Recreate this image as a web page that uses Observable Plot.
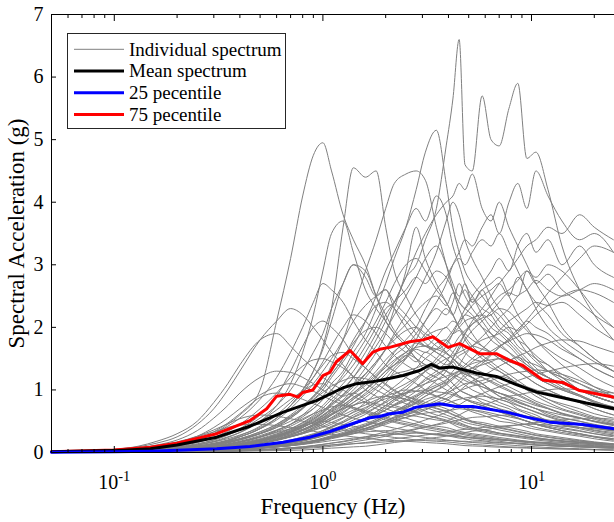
<!DOCTYPE html>
<html><head><meta charset="utf-8">
<script src="https://cdn.jsdelivr.net/npm/d3@7"></script>
<script src="https://cdn.jsdelivr.net/npm/@observablehq/plot@0.6"></script>
<style>body{margin:0;background:#fff;}</style>
</head><body><div id="chart"></div>
<script>
// Frequency grid (Hz) shared by the individual spectra
const freq = [0.05,0.07,0.1,0.13,0.16,0.2,0.25,0.3,0.35,0.4,0.5, 0.6,0.7,0.8,0.9,1.0,1.1,1.25,1.4,1.6,1.8,2.0, 2.2,2.5,2.8,3.1,3.5,3.9,4.2,4.5,4.8,5.2,5.8, 6.4,7.0,7.8,8.6,9.5,10.5,12,14,17,20,24.7];

// Individual spectra (g), read/
const s1 = [0,0.01,0.02,0.03,0.05,0.07,0.1,0.14,0.18,0.22,0.3, 0.4,0.5,0.6,0.7,0.85,1.0,1.2,1.4,1.7,2.0,2.3, 2.4,2.8,3.0,3.4,3.9,4.9,5.65,6.6,4.6,4.5,5.7, 5.0,4.9,5.5,5.9,4.7,4.8,4.2,3.3,2.6,2.2,1.8];
const s2 = [0,0.01,0.03,0.05,0.08,0.12,0.2,0.3,0.45,0.6,1.0, 2.1,3.1,4.1,4.75,4.95,4.5,3.8,3.4,3.0,2.5,2.1, 1.9,1.7,1.5,1.4,1.3,1.2,1.1,1.0,0.95,0.9,0.8, 0.75,0.7,0.6,0.55,0.5,0.45,0.4,0.35,0.3,0.25,0.2];
const s3 = [0,0.01,0.02,0.03,0.05,0.08,0.12,0.17,0.22,0.28,0.4, 0.55,0.75,1.0,1.3,1.7,2.3,3.6,4.55,4.4,4.5,3.6, 2.9,2.5,2.2,2.0,1.8,1.6,1.5,1.4,1.3,1.2,1.0, 0.9,0.85,0.8,0.7,0.65,0.6,0.5,0.45,0.4,0.35,0.3];
const s4 = [0,0.01,0.02,0.03,0.04,0.06,0.09,0.12,0.16,0.2,0.3, 0.4,0.55,0.7,0.9,1.1,1.4,1.8,2.3,2.9,3.4,3.9, 4.3,4.45,4.5,4.35,3.6,3.0,2.6,2.3,2.1,1.9,1.7, 1.6,1.5,1.4,1.3,1.2,1.1,1.0,0.9,0.8,0.7,0.6];
const s5 = [0,0.01,0.02,0.03,0.04,0.05,0.07,0.1,0.13,0.17,0.25, 0.35,0.45,0.6,0.75,0.9,1.1,1.3,1.6,1.9,2.3,2.7, 3.1,3.6,4.2,4.8,5.15,4.3,3.6,3.2,2.9,2.7,2.5, 2.3,2.2,2.0,1.8,1.7,1.5,1.4,1.2,1.0,0.9,0.8];
const s6 = [0,0.005,0.01,0.02,0.03,0.04,0.05,0.07,0.09,0.11,0.15, 0.2,0.25,0.3,0.35,0.4,0.45,0.55,0.65,0.8,0.95,1.1, 1.3,1.5,1.8,2.1,2.4,2.7,3.0,3.2,3.4,3.3,3.6, 3.8,3.5,4.0,4.3,3.9,4.5,4.1,3.7,3.4,3.5,3.2];
const s7 = [0,0.01,0.015,0.02,0.03,0.04,0.06,0.08,0.1,0.13,0.2, 0.28,0.36,0.45,0.55,0.65,0.8,1.0,1.2,1.5,1.8,2.1, 2.4,2.8,3.2,3.5,3.8,4.0,4.1,4.3,4.2,4.45,3.9, 3.7,4.0,3.6,3.3,3.0,2.7,2.4,2.0,1.7,1.5,1.3];
const s8 = [0,0.01,0.02,0.03,0.05,0.08,0.12,0.18,0.25,0.32,0.5, 0.75,1.1,1.6,2.2,2.9,3.5,3.7,3.2,2.6,2.3,2.1, 1.9,1.7,1.5,1.3,1.2,1.1,1.0,0.9,0.85,0.8,0.75, 0.7,0.65,0.6,0.55,0.5,0.45,0.4,0.35,0.3,0.25,0.2];
const s9 = [0,0.01,0.02,0.03,0.04,0.06,0.08,0.11,0.15,0.2,0.3, 0.42,0.55,0.7,0.85,1.0,1.2,1.45,1.7,2.1,2.5,2.9, 3.2,3.6,3.9,3.7,4.1,3.8,3.3,3.0,2.7,2.5,2.3, 2.2,2.0,1.9,1.7,1.6,1.5,1.3,1.2,1.0,0.9,0.8];
const s10 = [0,0,0.01,0.015,0.02,0.03,0.04,0.05,0.06,0.08,0.1, 0.13,0.16,0.2,0.24,0.28,0.32,0.38,0.45,0.55,0.65,0.75, 0.85,1.0,1.15,1.3,1.5,1.7,1.9,2.1,2.3,2.5,2.7, 2.9,3.1,2.9,3.3,3.5,3.2,3.4,3.0,3.3,3.0,2.8];
const s11 = [0,0,0.005,0.01,0.015,0.02,0.03,0.04,0.05,0.06,0.08, 0.1,0.12,0.15,0.18,0.21,0.25,0.3,0.36,0.43,0.5,0.58, 0.66,0.75,0.85,0.95,1.05,1.15,1.3,1.4,1.55,1.7,1.85, 2.0,2.15,2.3,2.5,2.6,2.75,2.6,2.5,2.6,2.7,2.6];
const s12 = [0,0.02,0.05,0.09,0.15,0.25,0.45,0.7,1.0,1.3,1.8, 2.1,2.3,2.2,2.0,1.8,1.6,1.4,1.2,1.0,0.9,0.8, 0.75,0.7,0.65,0.6,0.55,0.5,0.45,0.4,0.38,0.36,0.33, 0.3,0.28,0.26,0.24,0.22,0.2,0.18,0.16,0.14,0.12,0.1];
const s13 = [0,0.02,0.05,0.1,0.18,0.3,0.5,0.8,1.1,1.4,1.8, 1.9,1.7,1.5,1.35,1.2,1.1,1.0,0.9,0.8,0.7,0.65, 0.6,0.55,0.5,0.45,0.42,0.4,0.37,0.34,0.32,0.3,0.28, 0.26,0.24,0.22,0.2,0.18,0.16,0.15,0.13,0.12,0.1,0.09];
const s14 = [0,0.01,0.03,0.05,0.08,0.13,0.2,0.3,0.42,0.55,0.85, 1.2,1.6,2.0,2.4,2.7,2.6,2.4,2.1,1.8,1.6,1.4, 1.3,1.2,1.1,1.0,0.9,0.85,0.8,0.75,0.7,0.65,0.6, 0.55,0.5,0.48,0.45,0.4,0.37,0.34,0.3,0.26,0.22,0.18];
const s15 = [0,0.01,0.02,0.04,0.06,0.09,0.14,0.2,0.28,0.36,0.55, 0.75,1.0,1.3,1.6,1.9,2.3,2.7,3.0,2.8,2.5,2.6, 2.3,2.0,1.8,1.7,1.6,1.5,1.4,1.3,1.25,1.2,1.1, 1.0,0.95,0.9,0.8,0.75,0.7,0.65,0.6,0.55,0.5,0.45];
const s16 = [0,0.01,0.015,0.02,0.03,0.05,0.07,0.1,0.13,0.16,0.24, 0.33,0.42,0.52,0.62,0.75,0.9,1.1,1.3,1.6,1.9,2.2, 2.4,2.6,2.8,2.7,2.9,2.8,2.6,2.4,2.3,2.2,2.0, 1.8,1.7,1.6,1.5,1.4,1.3,1.2,1.1,1.0,0.9,0.8];
const s17 = [0,0.005,0.01,0.02,0.03,0.04,0.05,0.07,0.09,0.11,0.16, 0.22,0.28,0.35,0.42,0.5,0.6,0.72,0.85,1.0,1.2,1.4, 1.6,1.8,2.0,2.3,2.6,2.8,3.0,3.1,3.0,3.2,3.4, 3.3,3.5,3.2,2.9,2.6,2.4,2.2,1.9,1.7,1.5,1.3];
const s18 = [0,0.01,0.02,0.03,0.05,0.07,0.1,0.14,0.19,0.25,0.38, 0.52,0.7,0.9,1.1,1.3,1.5,1.8,2.1,2.35,2.5,2.6, 2.4,2.2,2.0,1.85,1.7,1.6,1.5,1.4,1.3,1.2,1.1, 1.0,0.9,0.85,0.8,0.75,0.7,0.6,0.55,0.5,0.45,0.4];
const s19 = [0,0.005,0.01,0.015,0.02,0.03,0.045,0.06,0.08,0.1,0.15, 0.2,0.26,0.32,0.4,0.48,0.56,0.68,0.8,0.95,1.1,1.25, 1.4,1.55,1.7,1.85,1.95,2.0,2.1,2.05,2.2,2.15,2.0, 1.9,1.8,1.7,1.55,1.4,1.3,1.2,1.1,1.0,0.9,0.8];
const s20 = [0,0,0.005,0.01,0.015,0.02,0.03,0.04,0.05,0.07,0.1, 0.13,0.17,0.2,0.24,0.28,0.33,0.4,0.47,0.55,0.65,0.75, 0.85,0.95,1.05,1.15,1.25,1.35,1.45,1.55,1.6,1.7,1.8, 1.85,1.9,2.0,1.95,2.1,2.0,1.9,1.7,1.5,1.35,1.2];
const s21 = [0,0.01,0.02,0.03,0.05,0.07,0.1,0.15,0.2,0.27,0.42, 0.6,0.8,1.0,1.2,1.4,1.55,1.6,1.5,1.35,1.2,1.1, 1.0,0.9,0.85,0.8,0.75,0.7,0.65,0.6,0.55,0.5,0.48, 0.45,0.42,0.4,0.37,0.34,0.3,0.27,0.24,0.2,0.17,0.14];
const s22 = [0,0.005,0.01,0.02,0.03,0.04,0.06,0.08,0.1,0.13,0.18, 0.24,0.3,0.37,0.44,0.52,0.6,0.7,0.8,0.92,1.05,1.15, 1.25,1.3,1.35,1.4,1.35,1.3,1.25,1.2,1.15,1.1,1.05, 1.0,0.95,0.9,0.85,0.8,0.75,0.7,0.62,0.55,0.5,0.45];
const s23 = [0,0,0.005,0.01,0.015,0.02,0.03,0.04,0.05,0.06,0.09, 0.12,0.15,0.18,0.22,0.26,0.3,0.35,0.4,0.46,0.53,0.6, 0.66,0.72,0.78,0.85,0.9,0.95,1.0,1.05,1.1,1.12,1.15, 1.2,1.22,1.18,1.1,1.05,1.0,0.95,0.9,0.82,0.75,0.68];
const s24 = [0,0.005,0.01,0.015,0.02,0.03,0.04,0.06,0.08,0.1,0.15, 0.2,0.26,0.32,0.4,0.48,0.55,0.65,0.75,0.82,0.88,0.9, 0.88,0.85,0.8,0.75,0.7,0.65,0.6,0.56,0.52,0.48,0.45, 0.42,0.4,0.37,0.34,0.31,0.28,0.25,0.22,0.19,0.16,0.13];
const s25 = [0,0,0.005,0.01,0.01,0.015,0.02,0.03,0.04,0.05,0.07, 0.1,0.12,0.15,0.18,0.21,0.24,0.28,0.33,0.38,0.43,0.48, 0.52,0.56,0.6,0.63,0.65,0.67,0.68,0.7,0.69,0.68,0.66, 0.63,0.6,0.57,0.54,0.5,0.46,0.42,0.38,0.34,0.3,0.27];
const s26 = [0,0.005,0.01,0.02,0.03,0.05,0.07,0.1,0.13,0.17,0.25, 0.32,0.38,0.43,0.47,0.5,0.48,0.45,0.42,0.38,0.35,0.32, 0.3,0.28,0.26,0.24,0.22,0.2,0.19,0.18,0.17,0.16,0.15, 0.14,0.13,0.12,0.11,0.1,0.09,0.08,0.07,0.06,0.05,0.04];
const s27 = [0,0,0,0.005,0.005,0.01,0.01,0.015,0.02,0.025,0.035, 0.045,0.055,0.065,0.075,0.085,0.1,0.12,0.14,0.16,0.18,0.2, 0.22,0.24,0.26,0.28,0.3,0.32,0.34,0.36,0.37,0.38,0.4, 0.41,0.42,0.43,0.44,0.45,0.45,0.44,0.42,0.4,0.38,0.35];
const s28 = [0,0.01,0.02,0.03,0.05,0.08,0.12,0.17,0.24,0.32,0.5, 0.68,0.85,0.98,1.08,1.1,1.0,0.9,0.95,0.85,0.75,0.7, 0.65,0.6,0.58,0.55,0.52,0.5,0.47,0.44,0.41,0.38,0.35, 0.32,0.3,0.28,0.26,0.24,0.22,0.2,0.18,0.16,0.14,0.12];
const s29 = [0,0.005,0.01,0.015,0.02,0.03,0.05,0.07,0.09,0.12,0.18, 0.25,0.32,0.4,0.48,0.56,0.65,0.76,0.88,1.0,1.15,1.3, 1.4,1.5,1.65,1.6,1.75,1.8,1.7,1.75,1.6,1.5,1.45, 1.35,1.3,1.2,1.1,1.0,0.95,0.85,0.78,0.7,0.62,0.55];
const s30 = [0,0,0.005,0.01,0.015,0.02,0.03,0.04,0.05,0.06,0.08, 0.1,0.13,0.16,0.19,0.22,0.26,0.3,0.36,0.42,0.48,0.55, 0.62,0.7,0.8,0.9,1.0,1.1,1.2,1.3,1.4,1.5,1.65, 1.8,1.95,2.1,2.2,2.3,2.4,2.35,2.4,2.2,2.0,1.8];
const s31 = [0,0.01,0.015,0.02,0.03,0.05,0.07,0.1,0.13,0.17,0.25, 0.35,0.45,0.57,0.7,0.85,1.0,1.25,1.5,1.8,2.1,2.4, 2.7,3.0,3.1,2.9,2.6,2.4,2.2,2.0,1.9,1.8,1.7, 1.6,1.5,1.4,1.3,1.2,1.1,1.0,0.9,0.8,0.7,0.6];
const s32 = [0,0,0.01,0.015,0.02,0.03,0.04,0.05,0.065,0.08,0.12, 0.16,0.2,0.25,0.3,0.35,0.42,0.5,0.6,0.7,0.82,0.95, 1.05,1.2,1.35,1.5,1.65,1.8,1.95,2.1,2.2,2.35,2.5, 2.6,2.7,2.5,2.8,2.6,2.3,2.0,1.8,1.6,1.45,1.3];
const s33 = [0,0.02,0.04,0.07,0.12,0.2,0.35,0.55,0.75,0.95,1.2, 1.3,1.28,1.2,1.1,1.0,0.9,0.8,0.72,0.65,0.6,0.55, 0.5,0.46,0.43,0.4,0.37,0.34,0.32,0.3,0.28,0.26,0.24, 0.22,0.2,0.19,0.17,0.16,0.14,0.13,0.11,0.1,0.09,0.08];
const s34 = [0,0,0.005,0.01,0.015,0.02,0.03,0.04,0.05,0.06,0.08, 0.1,0.12,0.15,0.18,0.21,0.25,0.3,0.35,0.42,0.5,0.58, 0.66,0.76,0.88,1.0,1.15,1.3,1.5,1.7,1.9,2.1,2.3, 2.5,2.7,2.9,3.1,3.3,3.4,3.6,3.5,3.8,3.6,3.4];
const s35 = [0,0.01,0.02,0.03,0.04,0.06,0.09,0.13,0.17,0.22,0.33, 0.45,0.6,0.75,0.9,1.05,1.25,1.5,1.75,1.95,2.0,1.9, 1.75,1.6,1.5,1.4,1.3,1.2,1.1,1.0,0.95,0.9,0.85, 0.8,0.75,0.7,0.62,0.56,0.5,0.45,0.4,0.35,0.3,0.25];
const s36 = [0,0,0.005,0.01,0.01,0.015,0.02,0.03,0.04,0.05,0.07, 0.09,0.11,0.13,0.15,0.17,0.19,0.21,0.23,0.25,0.27,0.28, 0.29,0.3,0.31,0.3,0.29,0.28,0.27,0.26,0.25,0.24,0.23, 0.22,0.21,0.2,0.19,0.18,0.17,0.16,0.15,0.14,0.13,0.12];
const s37 = [0,0,0.005,0.01,0.015,0.02,0.03,0.04,0.05,0.06,0.09, 0.12,0.15,0.19,0.23,0.27,0.32,0.38,0.45,0.52,0.6,0.68, 0.75,0.82,0.9,0.97,1.05,1.12,1.2,1.25,1.3,1.35,1.4, 1.45,1.5,1.48,1.52,1.45,1.4,1.3,1.2,1.1,1.0,0.9];
const s38 = [0,0.005,0.01,0.02,0.03,0.04,0.06,0.08,0.1,0.13,0.2, 0.27,0.35,0.44,0.53,0.63,0.75,0.9,1.05,1.25,1.45,1.65, 1.85,2.05,2.25,2.4,2.5,2.35,2.55,2.4,2.3,2.45,2.2, 2.0,1.9,1.75,1.6,1.45,1.3,1.2,1.1,1.0,0.9,0.8];
const s39 = [0,0.02,0.04,0.07,0.11,0.17,0.26,0.36,0.46,0.54,0.6, 0.58,0.54,0.5,0.46,0.42,0.39,0.36,0.33,0.3,0.28,0.26, 0.24,0.22,0.2,0.19,0.18,0.17,0.16,0.15,0.14,0.13,0.12, 0.11,0.1,0.09,0.085,0.08,0.07,0.065,0.06,0.05,0.045,0.04];
const s40 = [0,0,0,0.005,0.005,0.01,0.015,0.02,0.025,0.03,0.04, 0.05,0.06,0.075,0.09,0.1,0.12,0.14,0.17,0.2,0.23,0.26, 0.29,0.33,0.37,0.41,0.45,0.5,0.55,0.6,0.65,0.7,0.75, 0.8,0.85,0.9,0.92,0.95,0.97,1.0,1.02,1.0,0.98,0.95];
const s41 = [0,0,0.005,0.01,0.015,0.02,0.03,0.04,0.055,0.07,0.1, 0.14,0.18,0.23,0.28,0.33,0.4,0.48,0.57,0.67,0.78,0.9, 1.0,1.1,1.2,1.3,1.4,1.5,1.55,1.6,1.65,1.7,1.65, 1.6,1.55,1.5,1.4,1.3,1.2,1.1,1.0,0.9,0.8,0.72];
const s42 = [0,0.005,0.01,0.015,0.02,0.03,0.04,0.06,0.08,0.1,0.15, 0.2,0.25,0.3,0.36,0.42,0.48,0.56,0.64,0.72,0.8,0.86, 0.9,0.95,0.98,1.0,0.97,0.95,0.92,0.88,0.85,0.82,0.78, 0.74,0.7,0.66,0.62,0.58,0.54,0.5,0.45,0.4,0.36,0.32];
const s43 = [0,0.01,0.02,0.03,0.05,0.07,0.1,0.14,0.19,0.25,0.38, 0.55,0.75,0.95,1.2,1.45,1.7,2.0,2.2,2.1,1.9,1.7, 1.55,1.4,1.3,1.2,1.1,1.0,0.95,0.9,0.85,0.8,0.75, 0.7,0.65,0.6,0.55,0.5,0.45,0.4,0.35,0.3,0.26,0.22];
const s44 = [0,0,0,0,0.005,0.005,0.01,0.01,0.015,0.02,0.025, 0.03,0.035,0.04,0.05,0.06,0.07,0.08,0.09,0.1,0.12,0.14, 0.16,0.18,0.2,0.22,0.24,0.26,0.28,0.3,0.32,0.34,0.36, 0.38,0.4,0.42,0.44,0.46,0.48,0.5,0.52,0.54,0.55,0.53];
const s45 = [0,0,0.005,0.01,0.01,0.015,0.02,0.03,0.04,0.05,0.07, 0.09,0.11,0.14,0.17,0.2,0.24,0.28,0.33,0.38,0.44,0.5, 0.56,0.62,0.68,0.74,0.8,0.86,0.92,0.98,1.02,1.06,1.1, 1.15,1.2,1.25,1.28,1.3,1.32,1.3,1.25,1.15,1.05,0.95];
const s46 = [0,0.005,0.01,0.015,0.02,0.03,0.05,0.07,0.09,0.12,0.18, 0.25,0.33,0.42,0.51,0.6,0.7,0.82,0.95,1.1,1.25,1.4, 1.55,1.7,1.9,2.1,2.3,2.2,2.4,2.7,2.5,2.3,2.1, 1.9,1.75,1.6,1.45,1.3,1.2,1.1,1.0,0.9,0.8,0.7];
const s47 = [0,0.005,0.01,0.02,0.03,0.04,0.06,0.08,0.11,0.14,0.2, 0.27,0.34,0.41,0.48,0.55,0.62,0.7,0.76,0.8,0.78,0.75, 0.72,0.68,0.64,0.6,0.56,0.52,0.49,0.46,0.43,0.4,0.37, 0.34,0.31,0.29,0.27,0.25,0.23,0.21,0.19,0.17,0.15,0.13];
const s48 = [0,0,0.005,0.01,0.015,0.02,0.03,0.04,0.05,0.065,0.09, 0.12,0.15,0.19,0.23,0.27,0.32,0.38,0.45,0.53,0.62,0.72, 0.82,0.93,1.05,1.18,1.3,1.45,1.6,1.75,1.9,2.05,2.2, 2.35,2.5,2.6,2.75,2.9,2.8,3.0,2.9,2.6,2.3,2.0];
const s49 = [0,0.01,0.02,0.04,0.06,0.1,0.16,0.24,0.34,0.45,0.7, 0.95,1.2,1.38,1.48,1.5,1.45,1.35,1.22,1.1,1.0,0.92, 0.85,0.78,0.72,0.66,0.6,0.56,0.52,0.48,0.44,0.4,0.37, 0.34,0.31,0.28,0.26,0.24,0.22,0.2,0.18,0.16,0.14,0.12];
const s50 = [0,0.005,0.01,0.02,0.03,0.04,0.06,0.09,0.12,0.15,0.22, 0.3,0.38,0.47,0.57,0.67,0.78,0.92,1.08,1.26,1.45,1.65, 1.8,1.95,2.0,1.9,1.8,1.7,1.6,1.5,1.42,1.35,1.28, 1.2,1.12,1.05,0.98,0.9,0.82,0.75,0.68,0.6,0.53,0.46];
const s51 = [0,0.005,0.01,0.015,0.02,0.03,0.05,0.07,0.09,0.12,0.17, 0.23,0.3,0.37,0.45,0.53,0.62,0.75,0.88,1.0,1.15,1.3, 1.4,1.55,1.45,1.6,1.5,1.4,1.45,1.3,1.25,1.2,1.1, 1.0,0.95,0.88,0.82,0.76,0.7,0.63,0.56,0.5,0.44,0.4];
const s52 = [0,0,0.005,0.01,0.015,0.02,0.03,0.04,0.05,0.07,0.1, 0.13,0.17,0.21,0.26,0.31,0.37,0.44,0.52,0.61,0.72,0.82, 0.93,1.05,1.18,1.3,1.45,1.6,1.7,1.85,1.95,2.05,2.15, 2.2,2.3,2.25,2.1,1.95,1.8,1.65,1.5,1.35,1.2,1.05];
const s53 = [0,0.01,0.015,0.025,0.04,0.06,0.09,0.13,0.17,0.22,0.33, 0.45,0.58,0.71,0.84,0.96,1.06,1.15,1.2,1.18,1.1,1.0, 0.92,0.85,0.78,0.72,0.66,0.6,0.56,0.52,0.48,0.45,0.42, 0.39,0.36,0.33,0.3,0.27,0.24,0.21,0.18,0.16,0.14,0.12];
const s54 = [0,0.005,0.01,0.015,0.02,0.03,0.045,0.06,0.08,0.1,0.15, 0.21,0.28,0.35,0.43,0.51,0.6,0.72,0.85,1.0,1.15,1.3, 1.45,1.6,1.75,1.7,1.85,2.0,1.9,1.95,1.8,1.65,1.5, 1.4,1.3,1.2,1.1,1.0,0.9,0.8,0.7,0.62,0.55,0.48];
const s55 = [0,0,0.005,0.01,0.01,0.015,0.02,0.03,0.04,0.05,0.07, 0.09,0.11,0.14,0.17,0.2,0.24,0.28,0.33,0.38,0.44,0.5, 0.55,0.6,0.65,0.7,0.74,0.78,0.82,0.85,0.87,0.89,0.9, 0.88,0.85,0.8,0.75,0.7,0.65,0.58,0.52,0.46,0.41,0.36];
const s56 = [0,0.005,0.01,0.015,0.02,0.03,0.04,0.06,0.08,0.1,0.14, 0.19,0.25,0.31,0.38,0.45,0.53,0.63,0.75,0.88,1.02,1.18, 1.35,1.52,1.7,1.9,2.1,2.3,2.2,2.45,2.7,2.4,2.6, 2.3,2.1,1.95,1.8,1.6,1.45,1.3,1.15,1.0,0.9,0.8];
const s57 = [0,0.005,0.01,0.015,0.02,0.025,0.03,0.04,0.05,0.06,0.08, 0.1,0.12,0.15,0.18,0.21,0.24,0.27,0.3,0.33,0.34,0.35, 0.34,0.33,0.32,0.3,0.28,0.27,0.26,0.25,0.24,0.23,0.22, 0.21,0.2,0.19,0.18,0.17,0.16,0.15,0.13,0.12,0.11,0.1];
const s58 = [0,0,0.005,0.01,0.01,0.015,0.02,0.03,0.04,0.05,0.07, 0.09,0.11,0.13,0.16,0.19,0.22,0.26,0.3,0.35,0.4,0.45, 0.5,0.56,0.62,0.68,0.75,0.82,0.9,0.98,1.06,1.14,1.22, 1.3,1.38,1.46,1.54,1.6,1.68,1.75,1.8,1.78,1.7,1.6];
const s59 = [0,0.005,0.01,0.02,0.03,0.04,0.06,0.08,0.11,0.14,0.21, 0.29,0.38,0.48,0.59,0.71,0.85,1.02,1.2,1.45,1.7,1.95, 2.2,2.5,2.8,3.1,3.3,3.0,2.7,2.5,2.6,2.4,2.6, 2.7,2.8,2.5,2.2,2.0,1.8,1.6,1.4,1.2,1.05,0.9];
const s60 = [0,0.015,0.03,0.06,0.1,0.16,0.26,0.4,0.55,0.7,0.92, 1.05,1.1,1.05,0.98,0.9,0.84,0.76,0.7,0.63,0.57,0.52, 0.48,0.44,0.4,0.37,0.34,0.31,0.29,0.27,0.25,0.23,0.21, 0.19,0.18,0.16,0.15,0.14,0.12,0.11,0.1,0.09,0.08,0.07];
const s61 = [0,0,0,0.005,0.005,0.01,0.015,0.02,0.025,0.03,0.045, 0.06,0.075,0.09,0.11,0.13,0.15,0.18,0.21,0.25,0.29,0.33, 0.37,0.42,0.47,0.52,0.58,0.64,0.7,0.76,0.82,0.88,0.94, 1.0,1.05,1.1,1.15,1.2,1.25,1.3,1.35,1.4,1.42,1.38];
const s62 = [0,0.01,0.015,0.025,0.04,0.06,0.08,0.12,0.16,0.21,0.31, 0.43,0.57,0.72,0.88,1.05,1.25,1.5,1.8,2.1,2.35,2.4, 2.3,2.1,1.9,1.75,1.6,1.5,1.4,1.3,1.2,1.12,1.05, 0.98,0.9,0.83,0.76,0.7,0.64,0.57,0.5,0.44,0.39,0.34];
const s63 = [0,0,0,0.005,0.01,0.01,0.015,0.02,0.025,0.03,0.045, 0.06,0.075,0.09,0.11,0.13,0.15,0.17,0.2,0.23,0.26,0.29, 0.32,0.35,0.38,0.41,0.44,0.47,0.5,0.52,0.54,0.56,0.57, 0.58,0.59,0.6,0.6,0.58,0.56,0.52,0.48,0.44,0.4,0.36];
const s64 = [0,0.005,0.01,0.02,0.03,0.04,0.06,0.08,0.1,0.13,0.19, 0.26,0.34,0.43,0.53,0.64,0.77,0.93,1.1,1.35,1.6,1.9, 2.3,2.9,3.6,3.1,2.7,2.4,2.2,2.0,1.85,1.7,1.55, 1.45,1.35,1.25,1.15,1.05,0.95,0.85,0.75,0.65,0.57,0.5];
const s65 = [0,0,0.005,0.01,0.015,0.02,0.025,0.035,0.045,0.055,0.08, 0.1,0.13,0.16,0.19,0.23,0.27,0.32,0.38,0.44,0.51,0.58, 0.65,0.73,0.81,0.9,0.99,1.08,1.17,1.26,1.35,1.45,1.55, 1.62,1.7,1.78,1.85,1.9,1.88,1.8,1.65,1.5,1.35,1.2];
const s66 = [0,0.005,0.01,0.02,0.03,0.045,0.07,0.1,0.14,0.18,0.27, 0.36,0.45,0.54,0.62,0.68,0.73,0.75,0.72,0.67,0.62,0.57, 0.53,0.49,0.45,0.42,0.39,0.36,0.34,0.32,0.3,0.28,0.26, 0.24,0.22,0.2,0.19,0.17,0.16,0.14,0.12,0.11,0.1,0.09];
const s67 = [0,0,0.005,0.01,0.015,0.02,0.03,0.04,0.05,0.06,0.09, 0.12,0.15,0.19,0.23,0.27,0.32,0.38,0.45,0.52,0.6,0.68, 0.77,0.87,0.98,1.1,1.22,1.35,1.5,1.65,1.8,1.95,2.1, 2.25,2.4,2.55,2.5,2.9,2.7,2.85,2.6,2.4,2.2,2.0];
const s68 = [0,0.005,0.01,0.01,0.015,0.02,0.03,0.045,0.06,0.075,0.11, 0.15,0.19,0.24,0.29,0.35,0.41,0.48,0.56,0.64,0.72,0.8, 0.88,0.96,1.04,1.1,1.16,1.22,1.26,1.3,1.28,1.25,1.2, 1.14,1.08,1.0,0.93,0.86,0.79,0.71,0.63,0.56,0.5,0.44];
const s69 = [0,0.01,0.02,0.035,0.055,0.085,0.13,0.2,0.28,0.38,0.6, 0.9,1.3,1.7,2.0,2.1,2.0,1.8,1.55,1.35,1.2,1.08, 0.98,0.9,0.83,0.77,0.71,0.66,0.61,0.57,0.53,0.49,0.45, 0.42,0.39,0.36,0.33,0.3,0.27,0.24,0.21,0.18,0.16,0.14];
const s70 = [0,0.005,0.01,0.015,0.025,0.035,0.05,0.07,0.09,0.12,0.18, 0.25,0.32,0.4,0.49,0.58,0.68,0.8,0.93,1.07,1.22,1.36, 1.48,1.6,1.68,1.7,1.65,1.58,1.5,1.42,1.35,1.28,1.2, 1.12,1.05,0.98,0.91,0.84,0.77,0.7,0.62,0.55,0.49,0.43];
const s71 = [0,0.015,0.03,0.06,0.1,0.16,0.25,0.33,0.4,0.44,0.45, 0.43,0.4,0.37,0.34,0.31,0.29,0.27,0.25,0.23,0.21,0.2, 0.19,0.18,0.17,0.16,0.15,0.14,0.13,0.12,0.11,0.105,0.1, 0.09,0.085,0.08,0.075,0.07,0.065,0.06,0.055,0.05,0.045,0.04];
const s72 = [0,0,0.005,0.01,0.015,0.02,0.025,0.035,0.045,0.055,0.075, 0.1,0.12,0.15,0.18,0.21,0.25,0.29,0.34,0.39,0.45,0.51, 0.57,0.64,0.72,0.8,0.88,0.97,1.06,1.15,1.25,1.35,1.46, 1.57,1.68,1.8,1.92,2.05,2.2,2.35,2.5,2.6,2.55,2.4];
const s73 = [0,0.005,0.01,0.015,0.02,0.03,0.04,0.06,0.08,0.1,0.15, 0.2,0.26,0.32,0.38,0.45,0.52,0.6,0.68,0.76,0.84,0.9, 0.95,1.0,0.98,0.95,0.9,0.85,0.8,0.76,0.72,0.68,0.64, 0.6,0.56,0.52,0.48,0.44,0.4,0.36,0.32,0.28,0.25,0.22];
const s74 = [0,0.005,0.01,0.015,0.02,0.03,0.045,0.06,0.08,0.1,0.15, 0.21,0.28,0.36,0.45,0.55,0.66,0.8,0.95,1.12,1.3,1.48, 1.62,1.75,1.8,1.7,1.65,1.75,1.9,2.0,2.1,2.15,2.2, 2.1,1.95,1.8,1.65,1.5,1.35,1.2,1.05,0.92,0.82,0.72];
const s75 = [0,0,0.005,0.005,0.01,0.015,0.02,0.025,0.03,0.04,0.05, 0.06,0.07,0.085,0.1,0.11,0.12,0.13,0.14,0.15,0.16,0.17, 0.18,0.19,0.2,0.2,0.2,0.19,0.19,0.18,0.18,0.17,0.17, 0.16,0.15,0.15,0.14,0.13,0.12,0.11,0.1,0.09,0.08,0.07];
const s76 = [0,0.01,0.02,0.03,0.05,0.07,0.1,0.14,0.19,0.25,0.38, 0.55,0.75,1.0,1.3,1.65,2.1,2.7,3.0,2.9,2.5,2.2, 1.95,1.75,1.6,1.5,1.4,1.3,1.22,1.15,1.08,1.0,0.93, 0.86,0.8,0.74,0.68,0.62,0.56,0.5,0.44,0.38,0.33,0.28];
const s77 = [0,0,0.005,0.01,0.015,0.02,0.03,0.04,0.05,0.06,0.09, 0.12,0.15,0.19,0.23,0.27,0.32,0.38,0.45,0.52,0.6,0.68, 0.76,0.84,0.92,1.0,1.08,1.16,1.24,1.3,1.36,1.42,1.46, 1.48,1.5,1.45,1.4,1.32,1.24,1.14,1.02,0.92,0.82,0.73];
const s78 = [0,0.005,0.01,0.015,0.025,0.035,0.05,0.07,0.09,0.12,0.18, 0.25,0.32,0.4,0.49,0.59,0.7,0.84,1.0,1.2,1.42,1.65, 1.9,2.2,2.5,2.8,3.2,3.7,4.0,3.8,3.4,3.1,2.8, 2.5,2.3,2.1,1.9,1.7,1.55,1.4,1.25,1.1,0.98,0.86];
const s79 = [0,0.015,0.03,0.055,0.09,0.14,0.22,0.33,0.47,0.62,0.88, 0.95,0.92,0.85,0.78,0.72,0.66,0.6,0.55,0.5,0.46,0.42, 0.39,0.36,0.33,0.31,0.29,0.27,0.25,0.23,0.22,0.2,0.19, 0.17,0.16,0.15,0.14,0.13,0.12,0.11,0.1,0.09,0.08,0.07];
const s80 = [0,0,0.005,0.01,0.015,0.02,0.025,0.03,0.04,0.05,0.07, 0.09,0.11,0.14,0.17,0.2,0.23,0.27,0.31,0.36,0.41,0.47, 0.53,0.6,0.67,0.75,0.83,0.92,1.01,1.1,1.2,1.3,1.42, 1.55,1.68,1.82,1.97,2.12,2.3,2.55,2.8,3.1,3.3,3.2];
const spectra = [s1,s2,s3,s4,s5,s6,s7,s8,s9,s10,s11,s12,s13,s14,s15,s16,s17,s18,s19,s20,
  s21,s22,s23,s24,s25,s26,s27,s28,s29,s30,s31,s32,s33,s34,s35,s36,s37,s38,s39,s40,
  s41,s42,s43,s44,s45,s46,s47,s48,s49,s50,s51,s52,s53,s54,s55,s56,s57,s58,s59,s60,
  s61,s62,s63,s64,s65,s66,s67,s68,s69,s70,s71,s72,s73,s74,s75,s76,s77,s78,s79,s80];

// Mean spectrum
const meanFreq = [0.05,0.1,0.149,0.2,0.31,0.447,0.646,0.93,1.25,1.45,1.68,1.87,2.42,2.91,3.31,3.63,4.2,5.44,6.78,8.4,10.6,14.1,18.3,25];
const meanVals = [0.01,0.03,0.06,0.12,0.245,0.42,0.645,0.83,1.035,1.10,1.125,1.15,1.23,1.31,1.41,1.35,1.365,1.27,1.215,1.09,0.965,0.875,0.79,0.70];
// 75th percentile
const p75Freq = [0.05,0.1,0.149,0.2,0.31,0.447,0.538,0.6,0.695,0.76,0.8,0.896,1.0,1.08,1.16,1.35,1.55,1.73,1.87,2.09,2.61,3.02,3.37,3.98,4.52,5.05,5.64,6.78,7.85,9.09,10.1,11.3,14.1,17.0,20.4,25];
const p75Vals = [0.01,0.04,0.085,0.15,0.30,0.51,0.70,0.90,0.93,0.885,0.96,1.0,1.23,1.28,1.45,1.63,1.42,1.60,1.65,1.68,1.77,1.80,1.85,1.68,1.74,1.66,1.58,1.58,1.47,1.39,1.28,1.16,1.12,0.99,0.94,0.88];
// 25th percentile
const p25Freq = [0.05,0.1,0.149,0.31,0.447,0.646,0.867,1.08,1.35,1.68,1.87,2.09,2.42,2.81,3.63,4.36,5.23,6.07,7.57,9.44,12.2,17.6,25];
const p25Vals = [0.005,0.01,0.02,0.06,0.096,0.165,0.245,0.336,0.448,0.555,0.576,0.62,0.645,0.725,0.78,0.735,0.735,0.70,0.645,0.565,0.485,0.448,0.38];

const xDomain = [0.05, 25];
const yDomain = [0, 7];
const xMajorTicks = [0.1, 1, 10];
const xMinorTicks = [0.06,0.07,0.08,0.09,0.2,0.3,0.4,0.5,0.6,0.7,0.8,0.9,2,3,4,5,6,7,8,9,20];
const yTicks = [0,1,2,3,4,5,6,7];
const xLabel = "Frequency (Hz)";
const yLabel = "Spectral Acceleration (g)";
const legendLabels = ["Individual spectrum","Mean spectrum","25 pecentile","75 pecentile"];
const legendColors = ["#808080","#000000","#0000ff","#ff0000"];
const legendWidths = [1,3,3,3];

const indiv = spectra.flatMap((s, k) => s.map((v, i) => ({f: freq[i], v, id: k})));
const series = (fs, vs) => fs.map((f, i) => ({f, v: vs[i]}));
const font = "\"Liberation Serif\", \"Times New Roman\", Tinos, \"Nimbus Roman\", \"DejaVu Serif\", serif";

const chart = Plot.plot({
  width: 614, height: 522,
  marginLeft: 51, marginRight: 0, marginTop: 14, marginBottom: 70,
  style: {fontFamily: font, fontSize: "20px", background: "#fff", color: "#000"},
  x: {type: "log", domain: xDomain},
  y: {domain: yDomain},
  marks: [
    Plot.line(indiv, {x: "f", y: "v", z: "id", stroke: "#808080", strokeWidth: 1, curve: "monotone-x"}),
    Plot.line(series(p75Freq, p75Vals), {x: "f", y: "v", stroke: "#ff0000", strokeWidth: 3}),
    Plot.line(series(meanFreq, meanVals), {x: "f", y: "v", stroke: "#000000", strokeWidth: 3}),
    Plot.line(series(p25Freq, p25Vals), {x: "f", y: "v", stroke: "#0000ff", strokeWidth: 3}),
    Plot.ruleY([yDomain[0], yDomain[1]], {stroke: "#000"}),
    Plot.ruleX([xDomain[0]], {stroke: "#000"}),
    // inward tick marks
    Plot.axisX({anchor: "bottom", ticks: xMajorTicks, tickSize: -6, tickFormat: () => "", label: null}),
    Plot.axisX({anchor: "bottom", ticks: xMinorTicks, tickSize: -3, tickFormat: () => "", label: null}),
    Plot.axisX({anchor: "top", ticks: xMajorTicks, tickSize: -6, tickFormat: () => "", label: null}),
    Plot.axisX({anchor: "top", ticks: xMinorTicks, tickSize: -3, tickFormat: () => "", label: null}),
    Plot.axisY({anchor: "left", ticks: yTicks, tickSize: -5, tickFormat: () => "", label: null}),
    // tick labels
    Plot.axisX({anchor: "bottom", ticks: xMajorTicks, tickSize: 0, tickPadding: 22, fontSize: 20,
      tickFormat: d => `10^${Math.round(Math.log10(d))}`, label: null}),
    Plot.axisY({anchor: "left", ticks: yTicks, tickSize: 0, tickPadding: 8, fontSize: 20,
      tickFormat: d => String(d), label: null}),
    // axis titles
    Plot.text([xLabel], {text: d => d, frameAnchor: "bottom", dy: 61, fontSize: 23, textAnchor: "middle"}),
    Plot.text([yLabel], {text: d => d, frameAnchor: "left", rotate: -90, dx: -35, fontSize: 23, textAnchor: "middle"})
  ]
});
document.getElementById("chart").appendChild(chart);

const svg = d3.select(chart);
// superscript exponents on the x tick labels
svg.selectAll("text").each(function() {
  const t = this.textContent;
  if (!/^10\^/.test(t)) return;
  const [b, e] = t.split("^");
  const el = d3.select(this);
  el.text("");
  el.append("tspan").text(b);
  el.append("tspan").attr("dy", "-0.55em").attr("font-size", "0.72em").text(e);
});

// legend box
const lg = svg.append("g").attr("font-family", font).attr("font-size", 19).attr("text-anchor", "start");
lg.append("rect").attr("x", 67.5).attr("y", 33.5).attr("width", 218).attr("height", 95)
  .attr("fill", "#fff").attr("stroke", "#262626").attr("stroke-width", 1);
legendLabels.forEach((label, i) => {
  const y = 49.3 + i * 21.7;
  lg.append("line").attr("x1", 74).attr("x2", 124).attr("y1", y).attr("y2", y)
    .attr("stroke", legendColors[i]).attr("stroke-width", legendWidths[i]);
  lg.append("text").attr("x", 129).attr("y", y).attr("dy", "0.33em").attr("fill", "#000").text(label);
});
</script>
</body></html>
